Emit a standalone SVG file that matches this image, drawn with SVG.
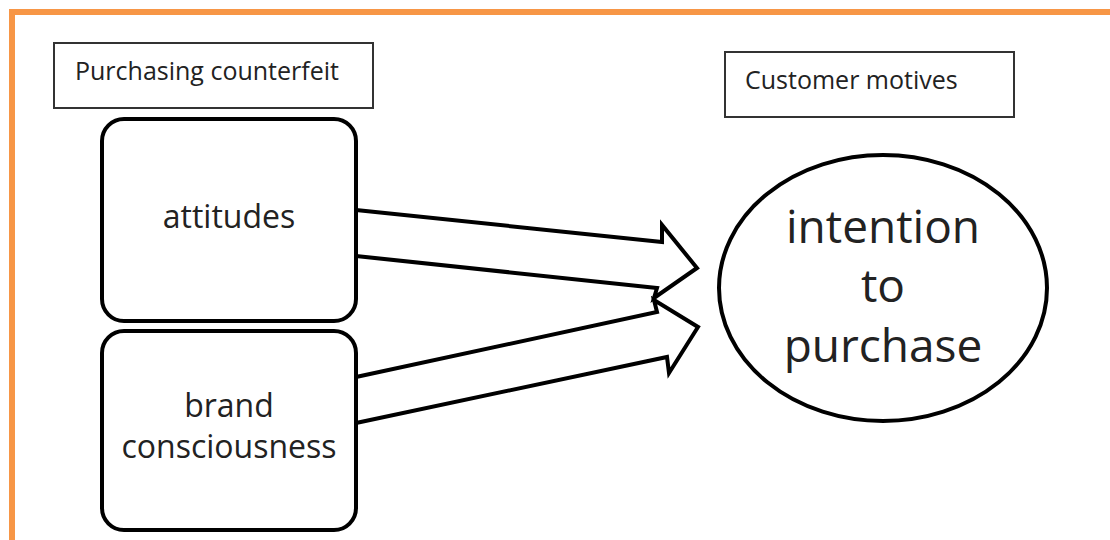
<svg xmlns="http://www.w3.org/2000/svg" width="1110" height="540" viewBox="0 0 1110 540">
<style>
.lbl{fill:none;stroke:#333;stroke-width:2}
.node{fill:#fff;stroke:#000;stroke-width:4}
.arr{fill:#fff;stroke:#000;stroke-width:4;stroke-linejoin:miter}
.t{font-family:"Open Sans","Liberation Sans",sans-serif;fill:#222;text-anchor:middle}
.ts{font-family:"Open Sans","Liberation Sans",sans-serif;fill:#222}
</style>
<rect x="0" y="0" width="1110" height="540" fill="#fff"/>
<path d="M12,540 V12 H1110" fill="none" stroke="#F79646" stroke-width="6"/>
<g id="label-purchasing">
<rect class="lbl" x="54" y="43" width="319" height="65"/>
<text class="ts" x="75" y="80" font-size="25">Purchasing counterfeit</text>
</g>
<g id="label-motives">
<rect class="lbl" x="725" y="52" width="289" height="65"/>
<text class="ts" x="745" y="89" font-size="25">Customer motives</text>
</g>
<g id="connectors">
<path class="arr" d="M356,210 L662,242 L662,225 L697,268 L654,298 L657,288 L356,256"/>
<path class="arr" d="M356,377 L657,312 L654,300 L698,327 L669,373 L667,357 L356,423"/>
</g>
<g id="node-attitudes">
<rect class="node" x="102" y="119" width="254" height="202" rx="22"/>
<text class="t" x="229" y="228" font-size="32">attitudes</text>
</g>
<g id="node-brand">
<rect class="node" x="102" y="331" width="254" height="199" rx="22"/>
<text class="t" x="229" y="417" font-size="32">brand</text>
<text class="t" x="229" y="458" font-size="32">consciousness</text>
</g>
<g id="node-intention">
<ellipse class="node" cx="883" cy="288" rx="164" ry="133"/>
<text class="t" x="883" y="243" font-size="46">intention</text>
<text class="t" x="883" y="302" font-size="46">to</text>
<text class="t" x="883" y="362" font-size="46">purchase</text>
</g>
</svg>
